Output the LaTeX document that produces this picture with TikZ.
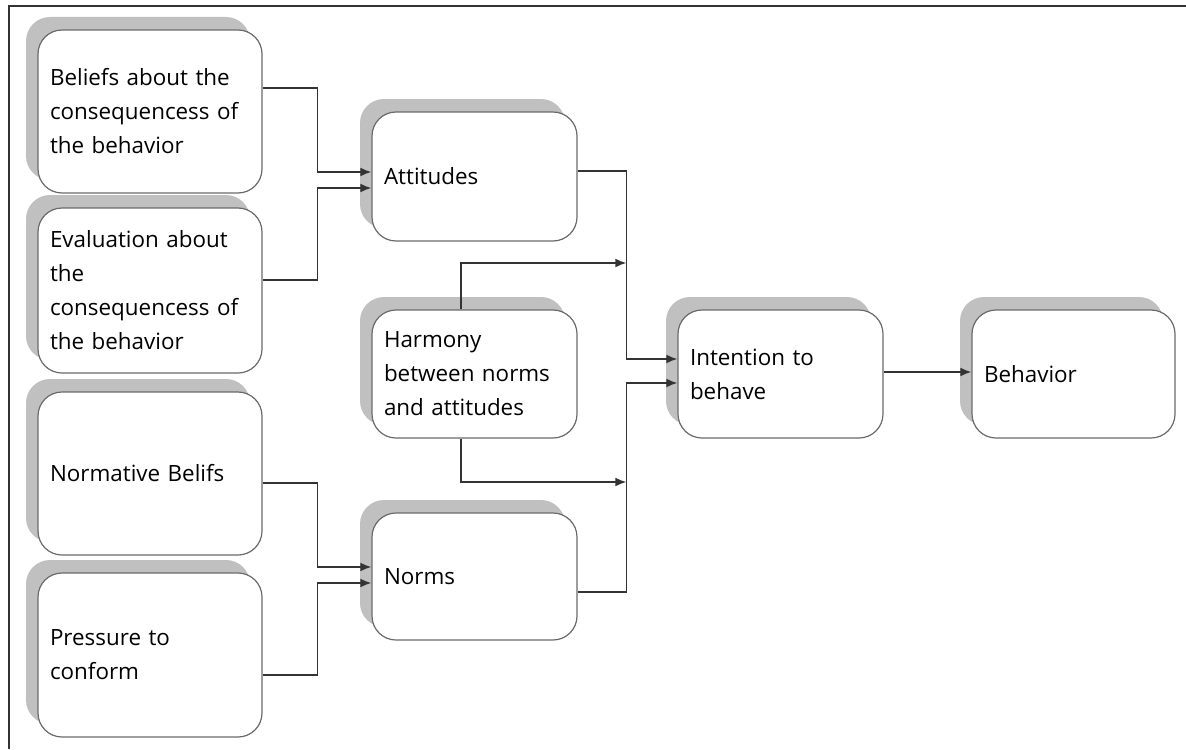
\documentclass[tikz,border=0pt]{standalone}
\usepackage{fontspec}
\setmainfont{Open Sans}
\usetikzlibrary{shadows,calc,arrows.meta}
\definecolor{shadowgray}{HTML}{C0C0C0}
\definecolor{boxline}{HTML}{6A6A6A}
\definecolor{connline}{HTML}{333333}
\tikzset{
  box/.style={draw=boxline, line width=0.6pt, fill=white, rounded corners=12pt,
    inner xsep=6pt, inner ysep=0pt, align=left, anchor=center,
    font=\fontsize{11.2}{17}\selectfont, text=black,
    general shadow={fill=shadowgray, draw=none, shadow xshift=-6pt, shadow yshift=6.5pt}},
  wbox/.style={box, minimum width=112pt, text width=100pt},
  mbox/.style={box, minimum width=102.5pt, text width=90.5pt},
  conn/.style={draw=connline, line width=0.75pt, -{Latex[length=5.5pt,width=4.4pt]}},
}
\begin{document}
\begin{tikzpicture}[x=0.5pt,y=-0.5pt]
\useasboundingbox (0,0) rectangle (1186,749);
\draw[line width=1.1pt, draw=black!80] (9,749) -- (9,6) -- (1186,6);
% left column
\node[wbox, minimum height=81.5pt] (b1) at (150,111.5) {Beliefs about the\\consequencess of\\the behavior};
\node[wbox, minimum height=82.5pt] (b2) at (150,290.5) {Evaluation about\\the\\consequencess of\\the behavior};
\node[wbox, minimum height=81.5pt] (b3) at (150,473.5) {Normative Belifs};
\node[wbox, minimum height=82pt] (b4) at (150,655) {Pressure to\\conform};
% middle column
\node[mbox, minimum height=64.5pt] (att) at (474.5,176.5) {Attitudes};
\node[mbox, minimum height=64pt] (har) at (474.5,374) {Harmony\\between norms\\and attitudes};
\node[mbox, minimum height=63.5pt] (nor) at (474.5,576.5) {Norms};
% right
\node[mbox, minimum height=64pt] (int) at (780.5,374) {Intention to\\behave};
\node[box, minimum width=101.5pt, text width=89.5pt, minimum height=64pt] (beh) at (1073.5,374) {Behavior};
% junction points
\coordinate (a1) at ($(att.west)+(0,-4.5)$);
\coordinate (a2) at ($(att.west)+(0,11.5)$);
\coordinate (n1) at ($(nor.west)+(0,-9.5)$);
\coordinate (n2) at ($(nor.west)+(0,6.5)$);
\coordinate (i1) at ($(int.west)+(0,-15)$);
\coordinate (i2) at ($(int.west)+(0,9)$);
\coordinate (h1) at ($(int.west)+(-51,-111)$);
\coordinate (h2) at ($(int.west)+(-51,108)$);
% connectors
\draw[conn] ($(b1.east)+(0,-23.5)$) -| ($(a1)+(-54,0)$) -- (a1);
\draw[conn] ($(b2.east)+(0,-10.5)$) -| ($(a2)+(-54,0)$) -- (a2);
\draw[conn] ($(b3.east)+(0,9.5)$) -| ($(n1)+(-54,0)$) -- (n1);
\draw[conn] ($(b4.east)+(0,20)$) -| ($(n2)+(-54,0)$) -- (n2);
\draw[conn] ($(att.east)+(0,-5.5)$) -| ($(i1)+(-51,0)$) -- (i1);
\draw[conn] ($(nor.east)+(0,15.5)$) -| ($(i2)+(-51,0)$) -- (i2);
\draw[conn] ($(har.north)+(-13.5,0)$) |- (h1);
\draw[conn] ($(har.south)+(-13.5,0)$) |- (h2);
\draw[conn] ($(int.east)+(0,-2)$) -- ($(beh.west)+(0,-2)$);
\end{tikzpicture}
\end{document}
